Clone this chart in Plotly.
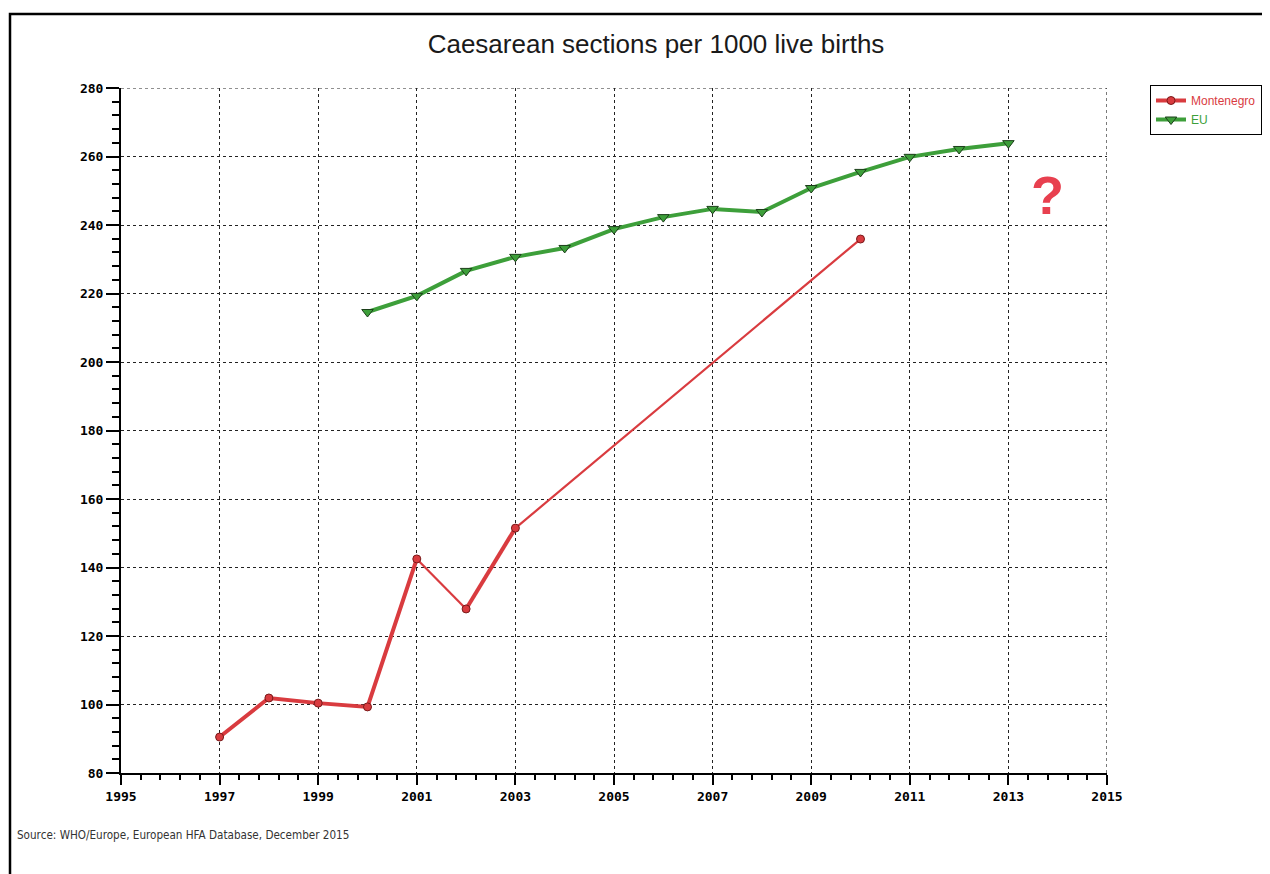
import plotly.graph_objects as go

# Data
mne_years = [1997, 1998, 1999, 2000, 2001, 2002, 2003, 2010]
mne_values = [90.5, 101.9, 100.4, 99.3, 142.5, 127.9, 151.5, 235.9]
eu_years = [2000, 2001, 2002, 2003, 2004, 2005, 2006, 2007, 2008, 2009, 2010, 2011, 2012, 2013]
eu_values = [214.6, 219.3, 226.6, 230.7, 233.3, 238.8, 242.3, 244.7, 243.8, 250.8, 255.5, 259.9, 262.2, 263.9]
x_ticks = [1995, 1997, 1999, 2001, 2003, 2005, 2007, 2009, 2011, 2013, 2015]
y_ticks = [80, 100, 120, 140, 160, 180, 200, 220, 240, 260, 280]

RED = "#d93b3f"
GREEN = "#3d9f3a"

fig = go.Figure()

# thin connecting segments for Montenegro
thin_idx = [[4, 5], [6, 7]]
tx, ty = [], []
for seg in thin_idx:
    for i in seg:
        tx.append(mne_years[i]); ty.append(mne_values[i])
    tx.append(None); ty.append(None)
fig.add_trace(go.Scatter(x=tx, y=ty, mode="lines", line=dict(color=RED, width=2.2),
                         showlegend=False, hoverinfo="skip"))

thick_idx = [[0, 1, 2, 3, 4], [5, 6]]
kx, ky = [], []
for seg in thick_idx:
    for i in seg:
        kx.append(mne_years[i]); ky.append(mne_values[i])
    kx.append(None); ky.append(None)
fig.add_trace(go.Scatter(x=kx, y=ky, mode="lines", line=dict(color=RED, width=4),
                         showlegend=False, hoverinfo="skip"))

fig.add_trace(go.Scatter(
    x=mne_years, y=mne_values, mode="markers", name="Montenegro",
    marker=dict(symbol="circle", size=8, color=RED, line=dict(color="#7a1a1a", width=1)),
    showlegend=False))
# legend entry
fig.add_trace(go.Scatter(
    x=[None], y=[None], mode="lines+markers",
    name="<span style='color:%s'>Montenegro</span>" % RED,
    line=dict(color=RED, width=4),
    marker=dict(symbol="circle", size=8, color=RED, line=dict(color="#7a1a1a", width=1))))

fig.add_trace(go.Scatter(
    x=eu_years, y=eu_values, mode="lines+markers",
    name="<span style='color:%s'>EU</span>" % GREEN,
    line=dict(color=GREEN, width=4),
    marker=dict(symbol="triangle-down", size=10, color=GREEN, line=dict(color="#1c3f1a", width=1))))

tickfont = dict(family="DejaVu Sans Mono", size=13, color="black", weight="bold")

# page body has an 8px margin; margins compensate so the plot area lands at 121..1107 x 88..773
fig.update_layout(
    width=1270, height=874,
    paper_bgcolor="white", plot_bgcolor="white",
    margin=dict(l=113, r=171, t=80, b=109),
    title=dict(text="Caesarean sections per 1000 live births", x=648/1270, xanchor="center",
               y=1 - 36/874, yanchor="middle",
               font=dict(family="Liberation Sans", size=26, color="#1a1a1a")),
    legend=dict(x=(1150 - 121) / 986, y=(773 - 85) / 685, xanchor="left", yanchor="top",
                bordercolor="black", borderwidth=1, bgcolor="white",
                font=dict(family="Liberation Sans", size=12),
                itemwidth=30, tracegroupgap=0),
    xaxis=dict(range=[1995, 2015], tickvals=x_ticks, ticktext=[str(v) for v in x_ticks],
               showline=True, linecolor="black", linewidth=2,
               ticks="outside", ticklen=10, tickwidth=1.5, tickcolor="black",
               showgrid=True, gridcolor="#222", griddash="dot", gridwidth=1.2,
               zeroline=False, tickfont=tickfont,
               minor=dict(dtick=0.4, tick0=1995, ticks="outside", ticklen=5, tickcolor="black",
                          showgrid=False)),
    yaxis=dict(range=[80, 280], tickvals=y_ticks, ticktext=[str(v) for v in y_ticks],
               showline=True, linecolor="black", linewidth=2,
               ticks="outside", ticklen=13, tickwidth=1.5, tickcolor="black",
               showgrid=True, gridcolor="#222", griddash="dot", gridwidth=1.2,
               zeroline=False, tickfont=tickfont,
               minor=dict(dtick=4, tick0=80, ticks="outside", ticklen=7, tickcolor="black",
                          showgrid=False)),
)

# outer frame
fig.add_shape(type="rect", xref="paper", yref="paper",
              x0=(10 - 121) / 986, x1=1.3, y0=-0.3, y1=(773 - 14) / 685,
              line=dict(color="black", width=2.5), fillcolor="rgba(0,0,0,0)", layer="below")

# right and top grid edges
fig.add_shape(type="line", xref="x", yref="y", x0=2015, x1=2015, y0=80, y1=280,
              line=dict(color="#222", width=1.2, dash="dot"))
fig.add_shape(type="line", xref="x", yref="y", x0=1995, x1=2015, y0=280, y1=280,
              line=dict(color="#222", width=1.2, dash="dot"))

fig.add_annotation(text="?", x=(1047 - 121) / 986, y=(773 - 195) / 685, xref="paper", yref="paper",
                   xanchor="center", yanchor="middle", showarrow=False,
                   font=dict(family="Liberation Sans Narrow, Liberation Sans", size=54,
                             color="#e8404f", weight="bold"))

fig.add_annotation(text="Source: WHO/Europe, European HFA Database, December 2015",
                   x=(15 - 121) / 986, y=(773 - 835) / 685, xref="paper", yref="paper",
                   xanchor="left", yanchor="middle", showarrow=False,
                   font=dict(family="DejaVu Sans Condensed, DejaVu Sans", size=11.6, color="#333"))

fig.write_html("out.html")
